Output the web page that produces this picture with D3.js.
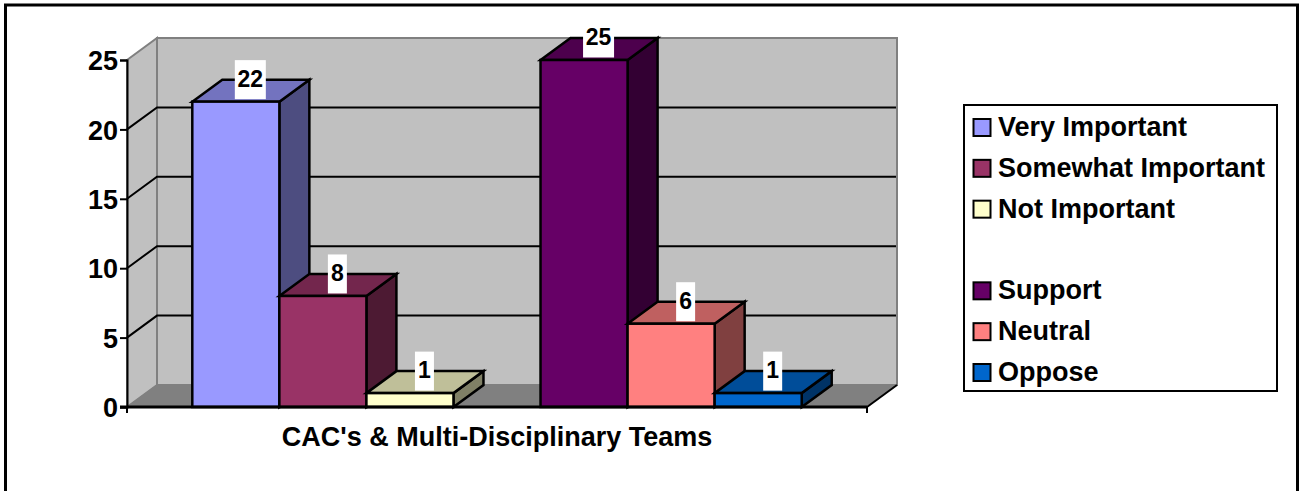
<!DOCTYPE html>
<html>
<head>
<meta charset="utf-8">
<script src="https://cdn.jsdelivr.net/npm/d3@7"></script>
<style>
  html, body { margin: 0; padding: 0; background: #fff; }
  svg { display: block; }
  text { font-family: "Liberation Sans", Arial, sans-serif; font-weight: bold; fill: #000; }
</style>
</head>
<body>
<div id="chart"></div>
<script>
// Data
const series = ['Very Important', 'Somewhat Important', 'Not Important', '', 'Support', 'Neutral', 'Oppose'];
const values = [22, 8, 1, null, 25, 6, 1];
const colors = ['#9999ff', '#993366', '#ffffcc', null, '#660066', '#ff8080', '#0066cc'];
const sideColors = ['#4d4d80', '#4d1a33', '#808066', null, '#330033', '#804040', '#003366'];
const topColors = ['#7373bf', '#73264d', '#bfbf99', null, '#4d004d', '#bf6060', '#004d99'];
const yTicks = [0, 5, 10, 15, 20, 25];
const categoryLabel = "CAC's & Multi-Disciplinary Teams";

const width = 1299, height = 491;
const depthX = 30, depthY = 22;

const svg = d3.select('#chart').append('svg')
  .attr('width', width)
  .attr('height', height);

// Outer frame
svg.append('rect')
  .attr('x', 5.5).attr('y', 5)
  .attr('width', 1292).attr('height', 490)
  .attr('fill', '#fff').attr('stroke', '#000').attr('stroke-width', 3);

const x = d3.scaleBand().domain(series.map((d, i) => i)).range([127, 867]).paddingInner(0).paddingOuter(0.75);
const y = d3.scaleLinear().domain([0, 25]).range([407, 60]);

const [x0, x1] = x.range();
const [y0, y1] = y.range();
const poly = pts => pts.map(p => p.join(',')).join(' ');

// Walls and floor
svg.append('polygon') // back wall
  .attr('points', poly([[x0 + depthX, y1 - depthY], [x1 + depthX, y1 - depthY], [x1 + depthX, y0 - depthY], [x0 + depthX, y0 - depthY]]))
  .attr('fill', '#c0c0c0').attr('stroke', '#808080').attr('stroke-width', 2);
svg.append('polygon') // side wall
  .attr('points', poly([[x0, y1], [x0 + depthX, y1 - depthY], [x0 + depthX, y0 - depthY], [x0, y0]]))
  .attr('fill', '#c0c0c0').attr('stroke', '#808080').attr('stroke-width', 2);
svg.append('polygon') // floor
  .attr('points', poly([[x0, y0], [x0 + depthX, y0 - depthY], [x1 + depthX, y0 - depthY], [x1, y0]]))
  .attr('fill', '#808080').attr('stroke', '#808080').attr('stroke-width', 1);

// Gridlines, running along the side wall then the back wall
svg.append('g').selectAll('polyline')
  .data(yTicks.filter(d => d > 0 && d < 25))
  .enter().append('polyline')
  .attr('points', d => poly([[x0, y(d)], [x0 + depthX, y(d) - depthY], [x1 + depthX - 1, y(d) - depthY]]))
  .attr('fill', 'none').attr('stroke', '#000').attr('stroke-width', 2);

// Front edge of the floor
svg.append('polyline')
  .attr('points', poly([[x1, y0], [x1 + depthX, y0 - depthY]]))
  .attr('fill', 'none').attr('stroke', '#000').attr('stroke-width', 2);

// 3D bars
const bars = series.map((d, i) => ({ i, value: values[i] })).filter(d => d.value !== null);
const bar = svg.append('g').selectAll('g').data(bars).enter().append('g')
  .attr('stroke', '#000').attr('stroke-width', 2.5).attr('stroke-linejoin', 'miter');

bar.append('polygon') // side
  .attr('fill', d => sideColors[d.i])
  .attr('points', d => {
    const r = x(d.i) + x.bandwidth();
    return poly([[r, y(d.value)], [r + depthX, y(d.value) - depthY], [r + depthX, y0 - depthY], [r, y0]]);
  });
bar.append('polygon') // top
  .attr('fill', d => topColors[d.i])
  .attr('points', d => {
    const l = x(d.i), r = l + x.bandwidth();
    return poly([[l, y(d.value)], [l + depthX, y(d.value) - depthY], [r + depthX, y(d.value) - depthY], [r, y(d.value)]]);
  });
bar.append('rect') // front
  .attr('fill', d => colors[d.i])
  .attr('x', d => x(d.i))
  .attr('y', d => y(d.value))
  .attr('width', x.bandwidth())
  .attr('height', d => y0 - y(d.value));

// Axes
const yAxis = svg.append('g')
  .attr('transform', `translate(${x0},0)`)
  .call(d3.axisLeft(y).tickValues(yTicks).tickSize(7).tickPadding(2));
yAxis.selectAll('path, line').attr('stroke', '#000').attr('stroke-width', 2);
yAxis.selectAll('text').style('font-size', '27px').attr('dy', '0.36em');

svg.append('line')
  .attr('x1', x0 - 7).attr('x2', x1).attr('y1', y0).attr('y2', y0)
  .attr('stroke', '#000').attr('stroke-width', 3);
svg.selectAll('.xtick').data([x0, x1]).enter().append('line')
  .attr('x1', d => d).attr('x2', d => d).attr('y1', y0).attr('y2', y0 + 6)
  .attr('stroke', '#000').attr('stroke-width', 2);

svg.append('text')
  .attr('x', (x0 + x1) / 2).attr('y', 446)
  .attr('text-anchor', 'middle')
  .style('font-size', '27px')
  .text(categoryLabel);

// Value labels on white boxes
const label = svg.append('g').selectAll('g').data(bars).enter().append('g')
  .attr('transform', d => `translate(${x(d.i) + x.bandwidth() / 2 + 14.5},${y(d.value) - depthY})`);
label.append('rect')
  .attr('x', d => d.value >= 10 ? -15.5 : -9.5)
  .attr('y', -19.5)
  .attr('width', d => d.value >= 10 ? 31 : 19)
  .attr('height', 39)
  .attr('fill', '#fff');
label.append('text')
  .attr('text-anchor', 'middle')
  .attr('dy', '0.3em')
  .style('font-size', '23px')
  .text(d => d.value);

// Legend
const legendY = d3.scalePoint().domain(series.map((d, i) => i)).range([127, 372]);
const legend = svg.append('g');
legend.append('rect')
  .attr('x', 964).attr('y', 105)
  .attr('width', 313).attr('height', 286)
  .attr('fill', '#fff').attr('stroke', '#000').attr('stroke-width', 2);
const item = legend.selectAll('g').data(series.map((d, i) => ({ name: d, i })).filter(d => d.name)).enter().append('g')
  .attr('transform', d => `translate(973,${legendY(d.i)})`);
item.append('rect')
  .attr('x', 0.5).attr('y', -8)
  .attr('width', 17).attr('height', 17)
  .attr('fill', d => colors[d.i])
  .attr('stroke', '#000').attr('stroke-width', 2);
item.append('text')
  .attr('x', 25)
  .attr('dy', '0.33em')
  .style('font-size', '27px')
  .text(d => d.name);
</script>
</body>
</html>
